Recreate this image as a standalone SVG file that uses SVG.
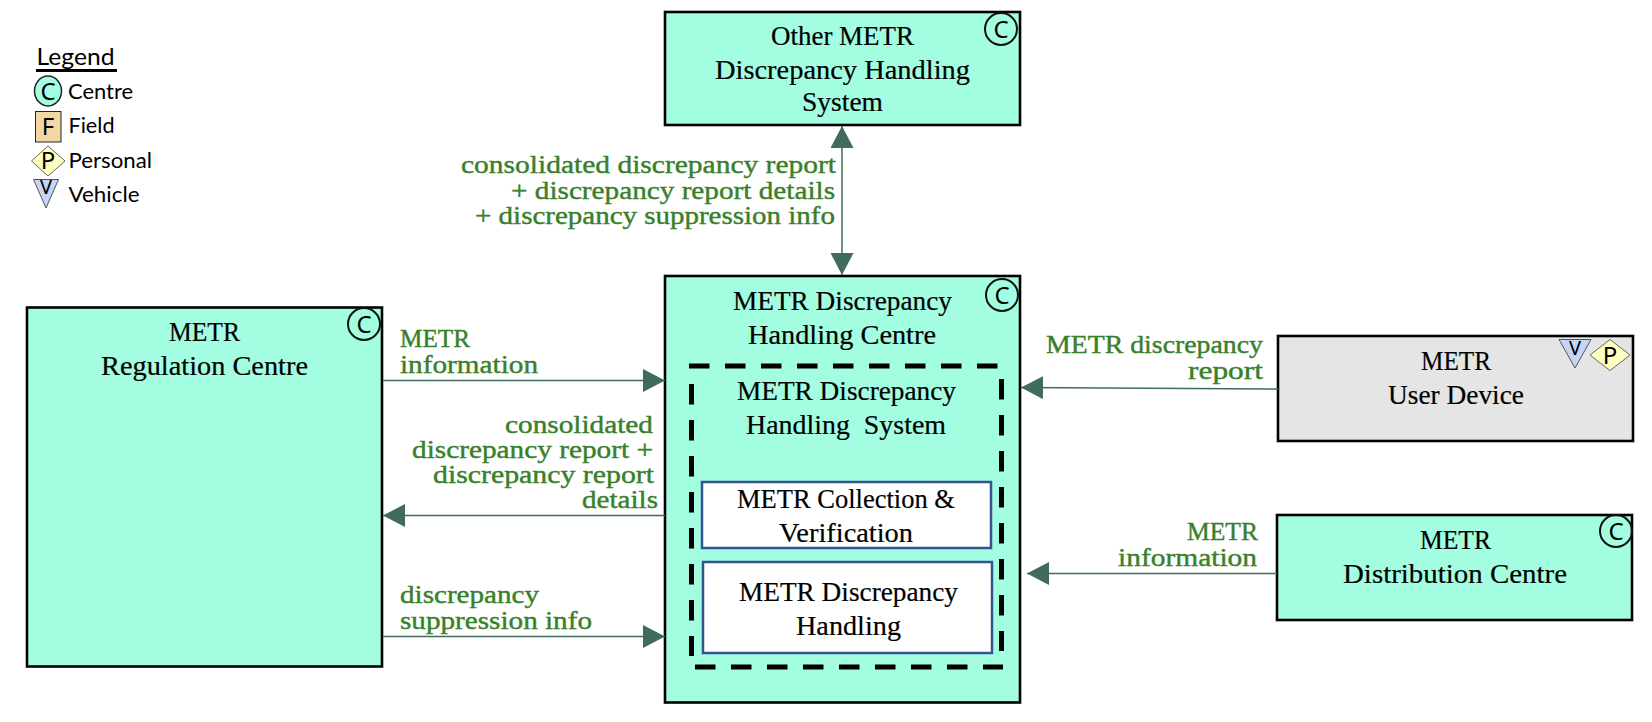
<svg xmlns="http://www.w3.org/2000/svg" width="1652" height="722" viewBox="0 0 1652 722">
<style>
.box{stroke:#000;stroke-width:2.6}
.c{fill:#a3fde0}
.g{fill:#e5e5e5}
.sub{fill:#fff;stroke:#34548f;stroke-width:2.5}
text{font-family:"Liberation Serif","Times New Roman",serif;font-size:27.500px;fill:#000;stroke:#000;stroke-width:.2}
.lb{font-size:25px;fill:#38802a;stroke:#38802a;stroke-width:.4}
.s{font-family:Lato,"Noto Sans",sans-serif;font-size:22px;stroke:none}
.ic{font-family:"Noto Sans",Lato,sans-serif;font-size:24px;text-anchor:middle;stroke:none}
.ring{fill:none;stroke:#111;stroke-width:2}
.dia{fill:#ffffc0;stroke:#666;stroke-width:1}
.tri{fill:#c5d5f7;stroke:#555;stroke-width:1}
.ln{fill:none;stroke:#416b5c;stroke-width:1.5;marker-end:url(#ah)}
.dash{fill:none;stroke:#000;stroke-width:5;stroke-dasharray:20.5 15.5}
</style>
<defs>
<marker id="ah" markerUnits="userSpaceOnUse" markerWidth="22" markerHeight="23" viewBox="0 0 22 23" refX="22" refY="11.5" orient="auto-start-reverse"><path d="M0 0L22 11.500L0 23Z" fill="#416b5c"/></marker>
</defs>
<rect width="1652" height="722" fill="#fff"/>
<g id="legend">
<text class="s" x="36.500" y="65" style="font-size:24px" textLength="78" lengthAdjust="spacingAndGlyphs">Legend</text>
<path d="M36 70.500H117" stroke="#000" stroke-width="3"/>
<ellipse cx="48" cy="91" rx="13.500" ry="15" fill="#a3fde0" stroke="#222" stroke-width="1.500"/>
<text class="ic" x="48" y="100">C</text>
<text class="s" x="68" y="99" textLength="65" lengthAdjust="spacingAndGlyphs">Centre</text>
<rect x="35.500" y="111.500" width="25.500" height="30.500" fill="#f3d7a3" stroke="#222" stroke-width="1"/>
<text class="ic" x="48" y="135">F</text>
<text class="s" x="68.500" y="133" textLength="46" lengthAdjust="spacingAndGlyphs">Field</text>
<path class="dia" d="M31.500 161L48 146L65 161L48 176Z"/>
<text class="ic" x="48" y="169">P</text>
<text class="s" x="68.500" y="168" textLength="83.500" lengthAdjust="spacingAndGlyphs">Personal</text>
<path class="tri" d="M33.500 179.500H58.500L46 208Z"/>
<text class="ic" x="46" y="194" style="font-size:20px">V</text>
<text class="s" x="68.500" y="202" textLength="71" lengthAdjust="spacingAndGlyphs">Vehicle</text>
</g>
<g id="other-system">
<rect class="box c" x="665" y="12" width="355" height="113"/>
<circle class="ring" cx="1001" cy="29" r="16"/>
<text class="ic" x="1001" y="38">C</text>
<text x="771" y="45" textLength="143" lengthAdjust="spacingAndGlyphs">Other METR</text>
<text x="715" y="79" textLength="255" lengthAdjust="spacingAndGlyphs">Discrepancy Handling</text>
<text x="802" y="111" textLength="81" lengthAdjust="spacingAndGlyphs">System</text>
</g>
<g id="handling-centre">
<rect class="box c" x="665" y="276" width="355" height="426.500"/>
<circle class="ring" cx="1002" cy="295" r="16"/>
<text class="ic" x="1002" y="304">C</text>
<text x="733" y="310" textLength="219" lengthAdjust="spacingAndGlyphs">METR Discrepancy</text>
<text x="748" y="344" textLength="188" lengthAdjust="spacingAndGlyphs">Handling Centre</text>
</g>
<g id="handling-system">
<path class="dash" d="M689 366H999"/>
<path class="dash" d="M1001.500 379V651"/>
<path class="dash" d="M691.500 384V656"/>
<path class="dash" d="M695 667H1003"/>
<text x="737" y="400" textLength="219" lengthAdjust="spacingAndGlyphs">METR Discrepancy</text>
<text x="746" y="434" textLength="200" lengthAdjust="spacingAndGlyphs" xml:space="preserve">Handling  System</text>
</g>
<g id="collection">
<rect class="sub" x="702" y="482" width="289" height="66"/>
<text x="737" y="507.500" textLength="218" lengthAdjust="spacingAndGlyphs">METR Collection &amp;</text>
<text x="779" y="542" textLength="134" lengthAdjust="spacingAndGlyphs">Verification</text>
</g>
<g id="discrepancy-handling">
<rect class="sub" x="703" y="562" width="289" height="91"/>
<text x="739" y="601" textLength="219" lengthAdjust="spacingAndGlyphs">METR Discrepancy</text>
<text x="796" y="635" textLength="105" lengthAdjust="spacingAndGlyphs">Handling</text>
</g>
<g id="regulation-centre">
<rect class="box c" x="27" y="307.500" width="355" height="359"/>
<circle class="ring" cx="364" cy="324" r="16"/>
<text class="ic" x="364" y="333">C</text>
<text x="169" y="341" textLength="71" lengthAdjust="spacingAndGlyphs">METR</text>
<text x="101" y="374.500" textLength="207" lengthAdjust="spacingAndGlyphs">Regulation Centre</text>
</g>
<g id="user-device">
<rect class="box g" x="1278" y="336" width="355" height="105"/>
<path class="tri" d="M1559 339.500H1591L1575 368Z"/>
<text class="ic" x="1575" y="355" style="font-size:20px">V</text>
<path class="dia" d="M1590 355L1610 339.500L1630 355L1610 370.500Z"/>
<text class="ic" x="1610" y="364">P</text>
<text x="1421" y="370" textLength="70" lengthAdjust="spacingAndGlyphs">METR</text>
<text x="1388" y="404" textLength="136" lengthAdjust="spacingAndGlyphs">User Device</text>
</g>
<g id="distribution-centre">
<rect class="box c" x="1277" y="515" width="355" height="105"/>
<circle class="ring" cx="1616" cy="531" r="16"/>
<text class="ic" x="1616" y="540">C</text>
<text x="1420" y="549" textLength="71" lengthAdjust="spacingAndGlyphs">METR</text>
<text x="1343" y="583" textLength="224" lengthAdjust="spacingAndGlyphs">Distribution Centre</text>
</g>
<g id="connectors">
<path class="ln" style="marker-start:url(#ah)" d="M842 126V275"/>
<path class="ln" d="M383 380.500H665"/>
<path class="ln" d="M665 515.500H383"/>
<path class="ln" d="M383 636.500H665"/>
<path class="ln" d="M1278 389L1021 387.500"/>
<path class="ln" d="M1277 573.500H1027"/>
</g>
<g id="labels">
<text class="lb" x="461" y="173" textLength="375" lengthAdjust="spacingAndGlyphs">consolidated discrepancy report</text>
<text class="lb" x="511" y="198.500" textLength="324" lengthAdjust="spacingAndGlyphs">+ discrepancy report details</text>
<text class="lb" x="475" y="223.500" textLength="360" lengthAdjust="spacingAndGlyphs">+ discrepancy suppression info</text>
<text class="lb" x="400" y="347" textLength="70" lengthAdjust="spacingAndGlyphs">METR</text>
<text class="lb" x="400" y="373" textLength="138" lengthAdjust="spacingAndGlyphs">information</text>
<text class="lb" x="505" y="432.500" textLength="148" lengthAdjust="spacingAndGlyphs">consolidated</text>
<text class="lb" x="412" y="457.500" textLength="241" lengthAdjust="spacingAndGlyphs">discrepancy report +</text>
<text class="lb" x="433" y="482.500" textLength="221" lengthAdjust="spacingAndGlyphs">discrepancy report</text>
<text class="lb" x="582" y="508" textLength="76" lengthAdjust="spacingAndGlyphs">details</text>
<text class="lb" x="400" y="603" textLength="139" lengthAdjust="spacingAndGlyphs">discrepancy</text>
<text class="lb" x="400" y="629" textLength="192" lengthAdjust="spacingAndGlyphs">suppression info</text>
<text class="lb" x="1046" y="353" textLength="217" lengthAdjust="spacingAndGlyphs">METR discrepancy</text>
<text class="lb" x="1188" y="379" textLength="75" lengthAdjust="spacingAndGlyphs">report</text>
<text class="lb" x="1187" y="540" textLength="71" lengthAdjust="spacingAndGlyphs">METR</text>
<text class="lb" x="1118" y="566" textLength="139" lengthAdjust="spacingAndGlyphs">information</text>
</g>
</svg>
